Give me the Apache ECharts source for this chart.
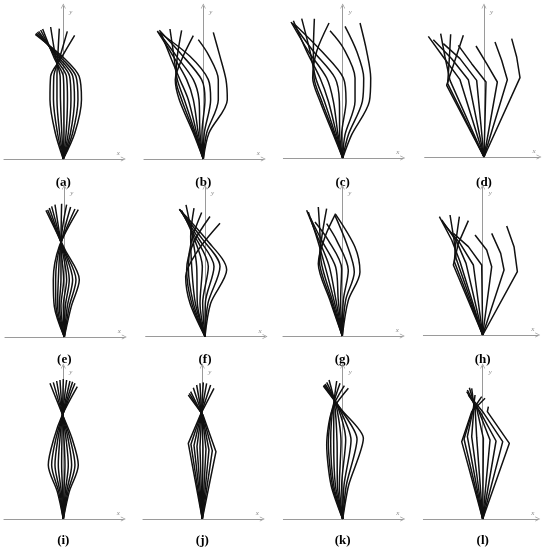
<!DOCTYPE html>
<html>
<head>
<meta charset="utf-8">
<script src="https://cdn.jsdelivr.net/npm/echarts@6/dist/echarts.min.js"></script>
<style>html,body{margin:0;padding:0;background:#fff;}#c{width:546px;height:550px;}</style>
</head>
<body>
<div id="c"></div>
<script>
// Units: 1 unit = 1/3 px, origin of each panel at (0,0)
const panelLabels = ['(a)','(b)','(c)','(d)','(e)','(f)','(g)','(h)','(i)','(j)','(k)','(l)'];

const curvesA = [
  [[0,0],[-24,78],[-40,178],[-38,248],[-8,300],[34,371]],
  [[0,0],[-17.5,78],[-29.5,178],[-28.5,248],[-12,300],[12,383]],
  [[0,0],[-11,78],[-19,178],[-19,248],[-17,300],[-12,391]],
  [[0,0],[-4.5,78],[-8.5,178],[-9.5,248],[-22,300],[-38,396]],
  [[0,0],[2,78],[2,178],[0,248],[-26,300],[-62,390]],
  [[0,0],[8.5,78],[12.5,178],[9.5,248],[-22,300],[-68,387]],
  [[0,0],[15,78],[23,178],[19,248],[-16,300],[-74,383]],
  [[0,0],[21.5,78],[33.5,178],[28.5,248],[-10,300],[-78,380]],
  [[0,0],[28,78],[44,178],[38,248],[-3,300],[-82,377]],
  [[0,0],[34.5,78],[54.5,178],[47.5,248],[5,300],[-84,374]]
];
const curvesB = [
  [[0,0],[-30,78],[-72,178],[-84,238],[-65,298],[-30,370]],
  [[0,0],[-27,78],[-65,178],[-82,238],[-78,308],[-65,386]],
  [[0,0],[-24,78],[-57,178],[-78,238],[-88,308],[-100,390]],
  [[0,0],[-20,78],[-45,178],[-70,238],[-95,298],[-128,380]],
  [[0,0],[-15,78],[-30,178],[-50,238],[-90,308],[-138,384]],
  [[0,0],[-10,78],[-13,178],[-30,238],[-80,308],[-135,381]],
  [[0,0],[-4,78],[5,178],[-5,238],[-65,313],[-132,386]],
  [[0,0],[3,78],[22,178],[15,238],[-40,308],[-130,378]],
  [[0,0],[10,78],[45,178],[45,238],[15,313],[-15,358]],
  [[0,0],[17,78],[72,178],[68,238],[50,308],[30,380]]
];
const curvesC = [
  [[0,0],[-28,70],[-68,170],[-90,240],[-78,320],[-41,405]],
  [[0,0],[-25,70],[-63,170],[-86,240],[-88,320],[-85,418]],
  [[0,0],[-22,70],[-55,170],[-81,240],[-98,320],[-123,418]],
  [[0,0],[-18,70],[-43,170],[-68,240],[-108,320],[-148,412]],
  [[0,0],[-14,70],[-28,170],[-48,240],[-103,320],[-155,408]],
  [[0,0],[-9,70],[-10,170],[-23,240],[-88,320],[-151,405]],
  [[0,0],[-3,70],[10,170],[2,240],[-63,320],[-143,400]],
  [[0,0],[7,70],[37,170],[37,240],[2,330],[-38,382]],
  [[0,0],[17,70],[59,170],[63,240],[42,320],[7,395]],
  [[0,0],[27,70],[80,170],[84,240],[72,320],[52,405]]
];
const curvesD = [
  [[0,0],[-112,215],[-87,290],[-62,365]],
  [[0,0],[-109,220],[-104,295],[-100,368]],
  [[0,0],[-102,230],[-117,300],[-130,370]],
  [[0,0],[-72,232],[-122,300],[-167,362]],
  [[0,0],[-47,232],[-97,295],[-152,352]],
  [[0,0],[-22,230],[-72,295],[-122,340]],
  [[0,0],[6,225],[-37,280],[-77,335]],
  [[0,0],[40,225],[8,280],[-24,333]],
  [[0,0],[70,232],[53,290],[33,345]],
  [[0,0],[108,238],[98,300],[83,355]]
];
const curvesE = [
  [[0,0],[-30,92],[-33,172],[-15,272],[42,382]],
  [[0,0],[-25,92],[-26,172],[-13,272],[32,384]],
  [[0,0],[-20,92],[-18,172],[-11,272],[19,390]],
  [[0,0],[-15,92],[-10,172],[-10,277],[7,397]],
  [[0,0],[-10,92],[-2,172],[-10,277],[-8,400]],
  [[0,0],[-3,92],[7,172],[-10,282],[-28,397]],
  [[0,0],[3,92],[15,172],[-8,277],[-38,392]],
  [[0,0],[9,92],[25,172],[-6,272],[-45,387]],
  [[0,0],[15,92],[35,172],[-3,267],[-50,382]],
  [[0,0],[21,92],[45,172],[2,262],[-55,380]]
];
const curvesF = [
  [[0,0],[-45,100],[-58,180],[-20,260],[45,340]],
  [[0,0],[-40,100],[-55,200],[-35,280],[15,360]],
  [[0,0],[-35,100],[-50,210],[-40,290],[-10,372]],
  [[0,0],[-29,100],[-40,210],[-43,300],[-33,385]],
  [[0,0],[-23,100],[-25,210],[-40,310],[-57,395]],
  [[0,0],[-15,100],[-8,210],[-37,305],[-70,378]],
  [[0,0],[-7,100],[10,210],[-30,300],[-73,378]],
  [[0,0],[1,100],[27,210],[-20,295],[-75,380]],
  [[0,0],[9,100],[45,210],[-10,295],[-77,382]],
  [[0,0],[17,100],[65,200],[5,290],[-77,382]]
];
const curvesG = [
  [[0,0],[-37,107],[-72,217],[-52,297],[-20,367]],
  [[0,0],[-34,107],[-69,227],[-60,307],[-47,382]],
  [[0,0],[-30,107],[-64,227],[-67,307],[-72,387]],
  [[0,0],[-25,107],[-54,217],[-77,297],[-102,372]],
  [[0,0],[-19,107],[-40,212],[-72,292],[-107,377]],
  [[0,0],[-12,107],[-20,207],[-62,287],[-97,357]],
  [[0,0],[-5,107],[-2,202],[-42,287],[-82,342]],
  [[0,0],[3,107],[18,197],[-17,287],[-47,337]],
  [[0,0],[10,107],[36,192],[13,277],[-22,362]],
  [[0,0],[18,107],[53,192],[38,267],[-20,365]]
];
const curvesH = [
  [[0,0],[-88,210],[-73,275],[-43,343]],
  [[0,0],[-85,220],[-80,285],[-70,355]],
  [[0,0],[-80,230],[-86,285],[-98,360]],
  [[0,0],[-68,220],[-93,285],[-130,355]],
  [[0,0],[-50,215],[-78,280],[-123,345]],
  [[0,0],[-28,210],[-68,275],[-118,335]],
  [[0,0],[-3,210],[-43,265],[-88,305]],
  [[0,0],[27,205],[12,255],[-23,300]],
  [[0,0],[64,195],[54,245],[27,305]],
  [[0,0],[104,190],[94,265],[72,327]]
];
const curvesI = [
  [[0,0],[-18,82],[-45,162],[-28,242],[-3,312],[42,397]],
  [[0,0],[-14,82],[-35,162],[-22,242],[-2,312],[35,407]],
  [[0,0],[-10,82],[-25,162],[-16,242],[-2,312],[28,412]],
  [[0,0],[-6,82],[-15,162],[-10,242],[-2,312],[20,414]],
  [[0,0],[-2,82],[-5,162],[-4,242],[-2,312],[10,417]],
  [[0,0],[2,82],[5,162],[2,242],[-2,312],[0,420]],
  [[0,0],[6,82],[15,162],[8,242],[-2,312],[-10,417]],
  [[0,0],[10,82],[25,162],[14,242],[-2,312],[-20,414]],
  [[0,0],[14,82],[35,162],[20,242],[-2,312],[-30,410]],
  [[0,0],[18,82],[45,162],[26,242],[-2,312],[-40,407]]
];
const curvesJ = [
  [[0,0],[-42,227],[-6,312],[35,392]],
  [[0,0],[-34,224],[-5,312],[25,402]],
  [[0,0],[-25,221],[-4,312],[13,407]],
  [[0,0],[-16,218],[-3,312],[3,410]],
  [[0,0],[-7,215],[-2,312],[-7,407]],
  [[0,0],[2,213],[-1,312],[-17,402]],
  [[0,0],[11,210],[0,312],[-27,394]],
  [[0,0],[20,207],[0,312],[-35,382]],
  [[0,0],[30,205],[1,312],[-39,377]],
  [[0,0],[41,202],[2,312],[-42,372]]
];
const curvesK = [
  [[0,0],[-35,102],[-48,222],[-33,322],[17,392]],
  [[0,0],[-31,102],[-43,227],[-31,332],[5,400]],
  [[0,0],[-27,102],[-36,232],[-28,342],[-8,407]],
  [[0,0],[-22,102],[-27,232],[-26,347],[-18,414]],
  [[0,0],[-16,102],[-17,232],[-25,352],[-41,417]],
  [[0,0],[-10,102],[-5,232],[-21,347],[-48,410]],
  [[0,0],[-3,102],[9,237],[-17,342],[-53,405]],
  [[0,0],[4,102],[25,237],[-13,337],[-56,402]],
  [[0,0],[11,102],[43,240],[-8,332],[-57,400]],
  [[0,0],[18,102],[62,242],[-3,327],[-58,399]]
];
const curvesL = [
  [[0,0],[-63,232],[-33,322],[7,362]],
  [[0,0],[-56,240],[-30,327],[-3,367]],
  [[0,0],[-46,247],[-28,332],[-23,372]],
  [[0,0],[-33,247],[-26,337],[-33,392]],
  [[0,0],[-18,244],[-23,337],[-40,394]],
  [[0,0],[2,242],[-18,332],[-46,387]],
  [[0,0],[22,237],[-13,327],[-48,382]],
  [[0,0],[40,234],[-8,322],[-43,372]],
  [[0,0],[60,232],[0,322],[-33,362]],
  [[0,0],[80,227],[14,322],[17,337]]
];

const allCurves = [curvesA,curvesB,curvesC,curvesD,curvesE,curvesF,curvesG,curvesH,curvesI,curvesJ,curvesK,curvesL];

// layout (pixels)
const OX = [63.3,203.3,342.7,484, 64.3,205,342.3,482.7, 63.3,202.3,342.7,482.7];
const OY = [159,159,158,157, 337,336.5,336,335, 519,519,519,519];
const TOP = [6,6,6,6, 187,187,187,187, 366,366,366,366];
const XMAX = [180,180,180,165, 180,180,180,165, 180,180,180,165];
const XMIN = -178;
const LABEL_Y = [183,183,183,183, 360,360,360,360, 541,541,541,541];
const SMOOTH = [0.3,0.3,0.3,0,0.3,0.3,0.3,0,0.3,0,0.25,0];

const arrow = 'path://M0,10L5,0L10,10L8.6,10L5,2.8L1.4,10Z';
const axisColor = '#9a9a9a';

const grid = [], xAxis = [], yAxis = [], series = [], graphic = [];
for (let i = 0; i < 12; i++) {
  grid.push({left: OX[i] + XMIN/3, top: TOP[i], width: (XMAX[i]-XMIN)/3, height: OY[i]-TOP[i]});
  xAxis.push({type:'value', gridIndex:i, min:XMIN, max:XMAX[i],
    axisLine:{show:true, onZero:false, lineStyle:{color:axisColor, width:1}, symbol:['none', arrow], symbolSize:[7,5]},
    axisTick:{show:false}, axisLabel:{show:false}, splitLine:{show:false},
    name:'x', nameLocation:'end', nameGap:-5,
    nameTextStyle:{color:'#888', fontStyle:'italic', fontFamily:'Liberation Serif', fontSize:7, align:'center', verticalAlign:'bottom', padding:[0,0,2,0]}
  });
  yAxis.push({type:'value', gridIndex:i, min:0, max:(OY[i]-TOP[i])*3,
    axisLine:{show:true, onZero:true, lineStyle:{color:axisColor, width:1}, symbol:['none', arrow], symbolSize:[7,5]},
    axisTick:{show:false}, axisLabel:{show:false}, splitLine:{show:false},
    name:'y', nameLocation:'end', nameGap:-6,
    nameTextStyle:{color:'#888', fontStyle:'italic', fontFamily:'Liberation Serif', fontSize:7, align:'left', verticalAlign:'middle', padding:[0,0,0,6]}
  });
  allCurves[i].forEach(c => {
    series.push({type:'line', xAxisIndex:i, yAxisIndex:i, data:c, symbol:'none', showSymbol:false,
      smooth:SMOOTH[i], lineStyle:{color:'#111', width:1.5}, silent:true, animation:false, z:3});
  });
  graphic.push({type:'text', x:OX[i], y:LABEL_Y[i],
    style:{text:panelLabels[i], align:'center', verticalAlign:'middle', fontSize:13, fontWeight:'bold', fontFamily:'Liberation Serif', fill:'#000'}});
}

const chart = echarts.init(document.getElementById('c'), null, {renderer:'canvas'});
chart.setOption({backgroundColor:'#fff', animation:false, grid, xAxis, yAxis, series, graphic});
</script>
</body>
</html>
